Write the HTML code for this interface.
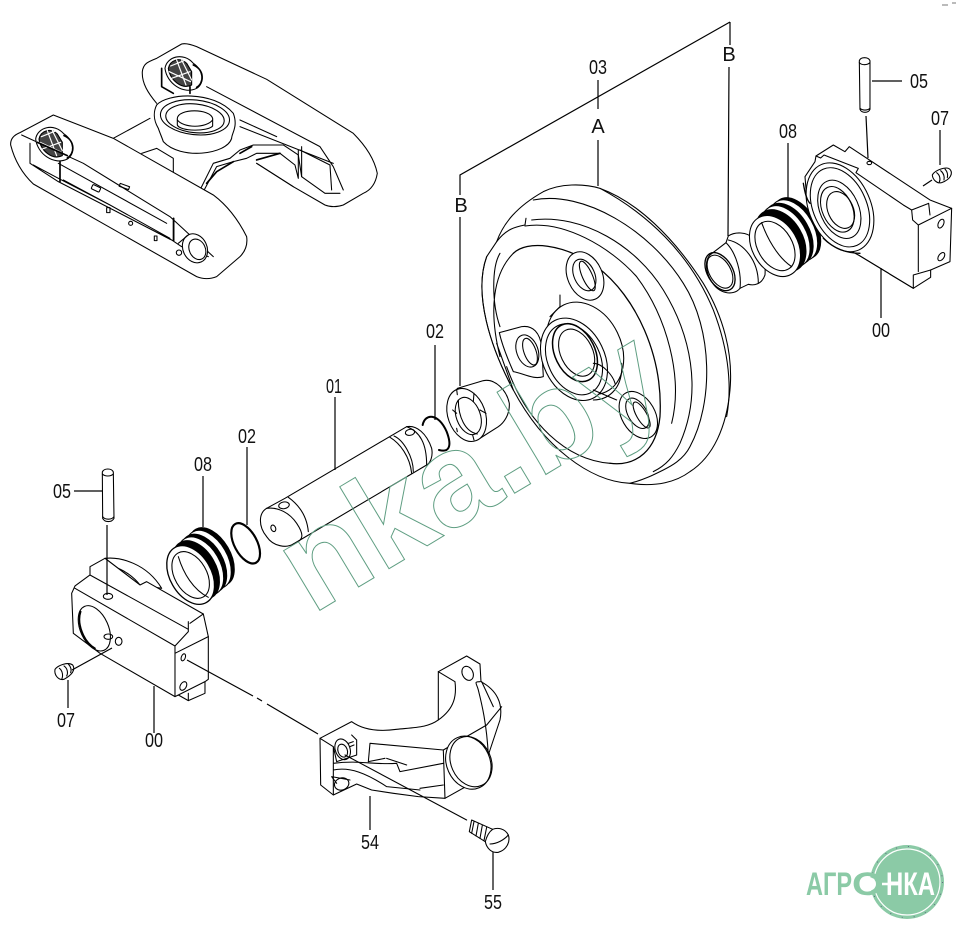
<!DOCTYPE html>
<html><head><meta charset="utf-8"><style>
html,body{margin:0;padding:0;background:#fff}
svg{display:block}
.l{font-family:"Liberation Sans",sans-serif;font-size:20px;fill:#111;text-anchor:middle}
.z{fill:none;stroke:#000;stroke-width:3.2;stroke-linejoin:round;stroke-linecap:round}
.w{fill:#fff}
.k{fill:#000}
</style></head><body>
<svg width="964" height="941" viewBox="0 0 964 941" xmlns="http://www.w3.org/2000/svg">
<rect width="964" height="941" fill="#fff"/>

<!-- overview -->
<g class="z" transform="translate(0,30) scale(.3333)">
<path class="w" d="M470 220C445 190 425 160 427 125C430 100 445 95 470 85L545 42Q560 38 590 50L800 148L1060 310Q1120 370 1132 430Q1125 475 1090 490L1030 525Q1000 535 975 525L880 470L770 400"/>
<path d="M340 325L450 265M720 290L1000 400M720 270L830 320M620 170L960 350L1000 410L1030 480"/>
<path d="M425 370L470 355L520 385L520 430M600 480L640 400L690 385L720 360L760 345L850 345L895 375L905 440L975 490L1020 490"/>
<path d="M610 485L650 410L700 395L740 385L770 370L840 370L885 405L895 445M770 400L880 470M895 360L895 445M905 350L905 440M900 360L990 405L995 480"/>
<path d="M620 460L650 425L700 395M720 370L755 350M770 390L840 370" style="stroke-width:5"/>
<path class="w" d="M470 225C500 190 640 180 700 250C715 290 695 310 695 325C680 375 540 390 490 335C485 320 480 310 475 295C460 270 460 245 470 225Z"/>
<ellipse cx="585" cy="262" rx="104" ry="52" transform="rotate(6 585 262)"/>
<ellipse cx="585" cy="265" rx="88" ry="43" transform="rotate(6 585 265)"/>
<path class="w" d="M532 265C535 235 630 235 638 265L638 288C625 305 540 305 532 285Z"/>
<path d="M532 270C550 295 620 295 638 270"/>
<path class="w" d="M160 255L340 325L640 495Q700 540 740 620Q745 655 720 680L650 740Q620 752 590 740L100 462Q50 415 32 345Q30 320 60 308Z"/>
<path d="M90 340L90 400L175 455L515 630L545 650L625 680M180 395L180 455M520 565L520 630M175 400L500 580M100 405L175 445L330 525L510 625M190 450L330 525M360 550L510 628M65 315L250 400L510 560L640 680"/>
<path d="M180 395L180 455M521 565L521 632" style="stroke-width:5"/>
<rect x="275" y="468" width="26" height="14" rx="3" transform="rotate(25 288 475)"/>
<rect x="358" y="465" width="30" height="9" transform="rotate(20 373 470)"/>
<rect x="320" y="533" width="10" height="15"/>
<circle cx="392" cy="580" r="6"/><rect x="463" y="618" width="8" height="14"/>
<circle cx="537" cy="668" r="8"/>
<ellipse class="w" cx="585" cy="655" rx="36" ry="45" transform="rotate(-25 585 655)"/>
<ellipse cx="592" cy="658" rx="24" ry="32" transform="rotate(-25 592 658)"/>
<path d="M535 640L565 615"/>
<g>
<path class="w" d="M495 115C500 80 550 65 580 100C610 120 615 160 590 175C550 195 500 160 495 115Z"/>
<path d="M505 115C510 90 540 80 560 100L575 125L575 165C545 180 510 150 505 115Z" fill="#444"/>
<path d="M512 108L552 92M508 125L572 155M530 90L558 165M545 90L575 150M515 145L570 125" style="stroke:#fff;stroke-width:3.5"/>
<path style="stroke-width:5" d="M580 105C615 120 612 160 590 172M570 170L570 190M485 115L485 170L520 190"/>
</g>
<g transform="translate(-388,212)">
<path class="w" d="M495 115C500 80 550 65 580 100C610 120 615 160 590 175C550 195 500 160 495 115Z"/>
<path d="M505 115C510 90 540 80 560 100L575 125L575 165C545 180 510 150 505 115Z" fill="#444"/>
<path d="M512 108L552 92M508 125L572 155M530 90L558 165M545 90L575 150M515 145L570 125" style="stroke:#fff;stroke-width:3.5"/>
<path style="stroke-width:5" d="M580 105C615 120 612 160 590 172M500 125L590 165"/>
</g>
</g>

<!-- wheel -->
<g class="z" transform="translate(450,150) scale(.3333)">
<path class="w" d="M140 275C160 220 200 170 280 125C330 100 400 100 450 115C560 155 670 260 760 400C820 500 850 610 840 720C830 830 790 920 720 965C680 995 620 1012 540 1000C420 995 280 890 190 720C120 590 70 430 110 320Z"/>
<path d="M140 275C170 235 200 230 225 225L228 205M250 150C400 120 600 240 700 400C790 540 790 760 720 890C700 930 660 950 640 960C610 975 580 990 540 1000"/>
<path d="M245 210C400 190 560 290 640 420C720 550 760 720 690 880C670 920 650 945 610 965"/>
<path d="M225 228C340 210 480 290 560 380C650 500 700 680 665 820"/>
<path d="M450 115C590 190 720 310 790 480C840 610 845 720 830 800"/>
<path style="stroke-width:3.8" d="M190 310C230 270 340 280 440 350C560 440 640 620 630 800C620 900 560 950 480 940"/>
<path d="M480 940C350 930 230 820 170 650M190 310C130 370 115 480 150 620M190 720L140 580M110 320C70 430 120 590 190 720M150 310C125 350 125 460 150 530"/>
<ellipse class="w" cx="405" cy="378" rx="52" ry="76" transform="rotate(-24 405 378)"/>
<ellipse cx="403" cy="375" rx="31" ry="50" transform="rotate(-24 403 375)"/>
<ellipse cx="412" cy="378" rx="15" ry="48" transform="rotate(-24 412 378)"/>
<path class="w" d="M148 548L215 530C250 525 270 550 275 590L280 680C250 690 220 670 190 665C170 620 155 580 148 548Z"/>
<ellipse cx="232" cy="603" rx="32" ry="50" transform="rotate(-20 232 603)"/>
<ellipse cx="240" cy="605" rx="18" ry="42" transform="rotate(-20 240 605)"/>
<ellipse class="w" cx="565" cy="795" rx="50" ry="76" transform="rotate(-30 565 795)"/>
<ellipse cx="562" cy="790" rx="28" ry="50" transform="rotate(-30 562 790)"/>
<ellipse cx="575" cy="795" rx="15" ry="44" transform="rotate(-30 575 795)"/>
<path d="M330 435V470L300 500"/>
<ellipse cx="405" cy="595" rx="108" ry="145" transform="rotate(-26 405 595)"/>
<ellipse class="w" cx="372" cy="628" rx="92" ry="130" transform="rotate(-26 372 628)"/>
<ellipse cx="372" cy="628" rx="78" ry="112" transform="rotate(-26 372 628)"/>
<ellipse cx="375" cy="608" rx="60" ry="92" transform="rotate(-26 375 608)" style="stroke-width:4.5"/>
<ellipse cx="380" cy="608" rx="48" ry="75" transform="rotate(-26 380 608)"/>
<path d="M430 640C460 640 490 680 495 700M430 720L500 750M515 640C520 710 480 750 430 750"/>
</g>

<!-- left bushing + shaft + ring -->
<g class="z" transform="translate(250,360) scale(.3333)">
<path class="w" d="M622 85L700 62C735 55 770 90 778 130C780 165 760 190 745 200L682 240Z"/>
<ellipse class="w" cx="650" cy="165" rx="56" ry="82" transform="rotate(-20 650 165)"/>
<ellipse cx="655" cy="168" rx="36" ry="58" transform="rotate(-20 655 168)"/>
<path d="M620 88L622 104M672 100L670 125M608 150L620 160M620 205L622 215M690 150L708 160M668 225L672 240M625 120C625 170 645 215 682 222"/>
<path class="w" d="M105 415L470 200C500 195 530 220 545 265C550 290 540 310 530 315L130 552C110 565 70 560 50 530C25 500 25 460 50 445Z"/>
<path d="M50 445C85 440 120 460 140 490C160 520 165 540 130 552"/>
<path d="M115 412C140 430 170 460 175 515M420 232C450 250 480 290 485 340M432 228C460 240 490 290 490 335M470 200C510 215 530 250 530 315"/>
<ellipse cx="102" cy="436" rx="16" ry="10" transform="rotate(-10 102 436)"/>
<ellipse cx="480" cy="217" rx="14" ry="9" transform="rotate(-10 480 217)"/>
<ellipse cx="70" cy="505" rx="7" ry="10" transform="rotate(-20 70 505)"/>
<path style="stroke-width:6" d="M518 195C525 160 565 158 590 215C608 262 595 278 567 270"/>
</g>

<!-- right group -->
<g class="z" transform="translate(690,40) scale(.3333)">
<path class="w" d="M60 645L108 608L115 588C135 575 170 575 190 595C215 620 228 665 225 705C215 735 190 737 175 733L150 745C130 770 85 760 65 725C45 695 45 660 60 645Z"/>
<ellipse cx="90" cy="695" rx="38" ry="62" transform="rotate(-30 90 695)" style="stroke-width:4"/>
<ellipse cx="90" cy="695" rx="32" ry="54" transform="rotate(-30 90 695)"/>
<path d="M115 600C160 610 205 660 205 730M108 608C140 640 155 700 150 745"/>
<ellipse class="k" cx="320" cy="565" rx="60" ry="100" transform="rotate(-30 320 565)"/>
<ellipse class="w" cx="311" cy="571" rx="60" ry="100" transform="rotate(-30 311 571)"/>
<ellipse class="k" cx="296" cy="582" rx="62" ry="100" transform="rotate(-30 296 582)"/>
<ellipse class="w" cx="287" cy="589" rx="62" ry="100" transform="rotate(-30 287 589)"/>
<ellipse class="k" cx="272" cy="602" rx="66" ry="100" transform="rotate(-30 272 602)"/>
<ellipse class="w" cx="255" cy="618" rx="68" ry="98" transform="rotate(-30 255 618)"/>
<ellipse cx="255" cy="618" rx="52" ry="80" transform="rotate(-30 255 618)"/>
<path d="M215 548C230 590 260 650 305 680"/>
<path class="w" d="M378 348L430 315L465 335L478 320L720 480L785 505L780 665L722 690V712L670 745L505 645L400 590L350 470L345 410L375 365Z"/>
<path d="M378 348L392 354L402 345L505 385L498 398L640 495L665 510L668 540L685 555V695M670 745V705L722 690M685 555L785 505M665 510L716 490L720 525M505 645L670 745"/>
<ellipse class="w" cx="450" cy="502" rx="92" ry="140" transform="rotate(-24 450 502)"/>
<ellipse cx="450" cy="502" rx="80" ry="125" transform="rotate(-24 450 502)"/>
<ellipse cx="448" cy="508" rx="58" ry="92" transform="rotate(-24 448 508)"/>
<ellipse cx="442" cy="508" rx="45" ry="72" transform="rotate(-24 442 508)"/>
<ellipse cx="452" cy="510" rx="38" ry="58" transform="rotate(-24 452 510)"/>
<path d="M340 430C345 460 350 480 360 490M400 595C430 625 470 640 510 640" style="stroke-width:4"/>
<ellipse cx="538" cy="369" rx="7" ry="5"/>
<ellipse cx="753" cy="551" rx="8" ry="14" transform="rotate(25 753 551)"/>
<ellipse cx="754" cy="650" rx="8" ry="14" transform="rotate(35 754 650)"/>
<path class="w" d="M508 62C512 50 535 50 540 62L540 208C535 220 515 220 510 208Z"/>
<path d="M508 68C515 76 532 76 540 68M510 205C518 212 532 212 540 205"/>
<path class="w" d="M727 405C735 390 770 378 780 388C790 400 782 418 755 428C740 432 728 418 727 405Z"/>
<path d="M740 398C750 405 752 418 748 426M752 392C762 400 764 412 762 420M765 387C772 395 774 405 772 413"/>
</g>

<!-- left group -->
<g class="z" transform="translate(40,460) scale(.3333)">
<path class="w" d="M195 295C240 290 320 310 365 385L300 375Z"/>
<path d="M215 320C250 325 285 355 300 375"/>
<ellipse class="k" cx="515" cy="290" rx="56" ry="95" transform="rotate(-30 515 290)"/>
<ellipse class="w" cx="506" cy="298" rx="56" ry="95" transform="rotate(-30 506 298)"/>
<ellipse class="k" cx="491" cy="310" rx="58" ry="95" transform="rotate(-30 491 310)"/>
<ellipse class="w" cx="482" cy="318" rx="58" ry="95" transform="rotate(-30 482 318)"/>
<ellipse class="k" cx="468" cy="330" rx="60" ry="95" transform="rotate(-30 468 330)"/>
<ellipse class="w" cx="452" cy="345" rx="62" ry="95" transform="rotate(-30 452 345)" style="stroke-width:4"/>
<ellipse cx="452" cy="345" rx="48" ry="76" transform="rotate(-30 452 345)"/>
<path d="M415 290C430 340 460 390 505 412"/>
<ellipse cx="617" cy="250" rx="34" ry="66" transform="rotate(-28 617 250)" style="stroke-width:6.5"/>
<path class="w" d="M150 320L195 295L300 375L320 365L490 462L505 530V658L495 665V700L445 722L415 705L405 710L180 580L100 520L95 400L105 378L150 345Z"/>
<path d="M105 385L405 558M150 345L445 508M445 485L445 515L405 558V710M405 580L505 530M445 700V722M415 705L495 665M450 490L490 462"/>
<ellipse class="w" cx="163" cy="505" rx="42" ry="72" transform="rotate(-24 163 505)"/>
<path style="stroke-width:5" d="M122 455C110 490 130 545 165 565"/>
<ellipse cx="204" cy="409" rx="14" ry="9"/>
<ellipse cx="205" cy="530" rx="13" ry="8"/>
<ellipse cx="236" cy="544" rx="10" ry="12"/>
<ellipse cx="430" cy="592" rx="6" ry="11" transform="rotate(20 430 592)"/>
<ellipse cx="430" cy="678" rx="9" ry="14" transform="rotate(30 430 678)"/>
<path class="w" d="M187 36C192 24 215 24 220 36L222 175C215 188 195 188 188 175Z"/>
<path d="M187 42C195 50 212 50 220 42M188 170C195 180 215 180 222 170"/>
<path class="w" d="M45 628C55 615 85 605 98 615C108 630 95 645 72 658C55 662 42 645 45 628Z"/>
<path d="M58 625C68 632 70 648 65 658M72 618C82 625 85 638 80 648M85 612C92 620 95 630 92 638"/>
</g>

<!-- bracket + bolt -->
<g class="z" transform="translate(300,640) scale(.3333)">
<path class="w" d="M60 295L155 245C190 270 240 275 290 268C350 262 385 262 415 240L415 95L500 48L540 72L543 125C590 150 610 190 600 240L565 345L560 405L435 475L355 470L280 460L215 450L170 432L100 465L62 435Z"/>
<path d="M415 95L465 125C470 165 465 205 415 240M540 125C520 125 530 130 535 150C545 190 560 250 565 345M560 255L430 330L435 475M430 330L210 310L205 365M60 295L100 320L100 465M155 285L170 300V345L110 365L100 320M100 370C180 360 220 375 290 370L300 395L430 370M100 390C150 380 200 400 260 440L360 450M260 355L320 375M205 365L255 355M360 445L430 435M580 200L545 125M605 200L560 255"/>
<ellipse cx="128" cy="328" rx="22" ry="32" transform="rotate(-20 128 328)"/>
<ellipse cx="128" cy="332" rx="14" ry="20" transform="rotate(-20 128 332)"/>
<path d="M145 310L160 305M150 320L162 315"/>
<ellipse cx="125" cy="432" rx="22" ry="18" transform="rotate(-20 125 432)"/>
<path d="M110 430L95 410L150 420"/>
<ellipse cx="503" cy="100" rx="16" ry="22" transform="rotate(-25 503 100)"/>
<ellipse class="w" cx="505" cy="368" rx="65" ry="82" transform="rotate(-24 505 368)"/>
<ellipse cx="513" cy="365" rx="60" ry="78" transform="rotate(-24 513 365)"/>
<path d="M135 345L500 540"/>
<path class="w" d="M515 540L578 568C592 562 615 565 625 585C632 605 620 630 595 637C575 640 560 625 556 605L508 575Z"/>
<path d="M556 605C560 590 568 575 578 568M570 612C590 612 612 600 625 585M522 545L515 580M535 550L528 588M547 556L540 595M560 562L552 602"/>
</g>

<!-- leaders -->
<g stroke="#000" stroke-width="1.2" fill="none">
<path d="M598 80V109M598 140V186M730 22L460 175V195M460 217V386M730 22V45M729 67L728 236M788 143V198"/>
<path d="M435 345V420M335 397V470M247 447V525M203 476V527"/>
<path d="M872 81H902M866 116L868 158M940 130V165M881 268V318M923 186L932 180"/>
<path d="M74 491H102M107 525V595M68 680V708M154 686V733M370 796V830M493 852V890"/>
<path d="M72 670L112 648"/>
<path d="M187 660L253 696M257 698L262 701M267 704L318 734"/>
</g>

<!-- labels -->
<g>
<text class="l" x="598" y="74" textLength="18" lengthAdjust="spacingAndGlyphs">03</text>
<text class="l" x="598" y="133" font-size="18">A</text>
<text class="l" x="461" y="212" font-size="18">B</text>
<text class="l" x="729" y="61" font-size="18">B</text>
<text class="l" x="788" y="138" textLength="18" lengthAdjust="spacingAndGlyphs">08</text>
<text class="l" x="919" y="88" textLength="18" lengthAdjust="spacingAndGlyphs">05</text>
<text class="l" x="940" y="125" textLength="18" lengthAdjust="spacingAndGlyphs">07</text>
<text class="l" x="881" y="337" textLength="18" lengthAdjust="spacingAndGlyphs">00</text>
<text class="l" x="435" y="338" textLength="18" lengthAdjust="spacingAndGlyphs">02</text>
<text class="l" x="334" y="393" textLength="16" lengthAdjust="spacingAndGlyphs">01</text>
<text class="l" x="247" y="443" textLength="18" lengthAdjust="spacingAndGlyphs">02</text>
<text class="l" x="203" y="471" textLength="18" lengthAdjust="spacingAndGlyphs">08</text>
<text class="l" x="62" y="498" textLength="18" lengthAdjust="spacingAndGlyphs">05</text>
<text class="l" x="66" y="727" textLength="18" lengthAdjust="spacingAndGlyphs">07</text>
<text class="l" x="154" y="747" textLength="18" lengthAdjust="spacingAndGlyphs">00</text>
<text class="l" x="370" y="849" textLength="18" lengthAdjust="spacingAndGlyphs">54</text>
<text class="l" x="493" y="909" textLength="18" lengthAdjust="spacingAndGlyphs">55</text>
</g>

<!-- watermark -->
<text transform="translate(312,615) rotate(-31)" x="0" y="0" font-family="Liberation Sans,sans-serif" font-weight="bold" font-size="132" fill="none" stroke="#5f9e82" stroke-width="1">nka.by</text>

<!-- logo -->
<circle cx="907" cy="882" r="37" fill="#8bcaa6"/>
<circle cx="907" cy="882" r="33" fill="none" stroke="#fff" stroke-width="1.2"/>
<circle cx="907" cy="882" r="35.5" fill="none" stroke="#557" stroke-width=".8" stroke-dasharray="1 11"/>
<text x="806" y="895" font-family="Liberation Sans,sans-serif" font-weight="bold" font-size="32" fill="#8bcaa6" textLength="46" lengthAdjust="spacingAndGlyphs">АГР</text>
<text x="852" y="895" font-family="Liberation Sans,sans-serif" font-weight="bold" font-size="32" fill="#8bcaa6" textLength="31" lengthAdjust="spacingAndGlyphs">О</text>
<ellipse cx="868" cy="884" rx="8" ry="7" fill="#fff"/>
<path d="M882 884H888" stroke="#fff" stroke-width="2.5"/>
<text x="886" y="895" font-family="Liberation Sans,sans-serif" font-weight="bold" font-size="32" fill="#fff" textLength="49" lengthAdjust="spacingAndGlyphs">НКА</text>
<path d="M942 5h6M952 3h4" stroke="#777" stroke-width="1"/>
</svg>
</body></html>
